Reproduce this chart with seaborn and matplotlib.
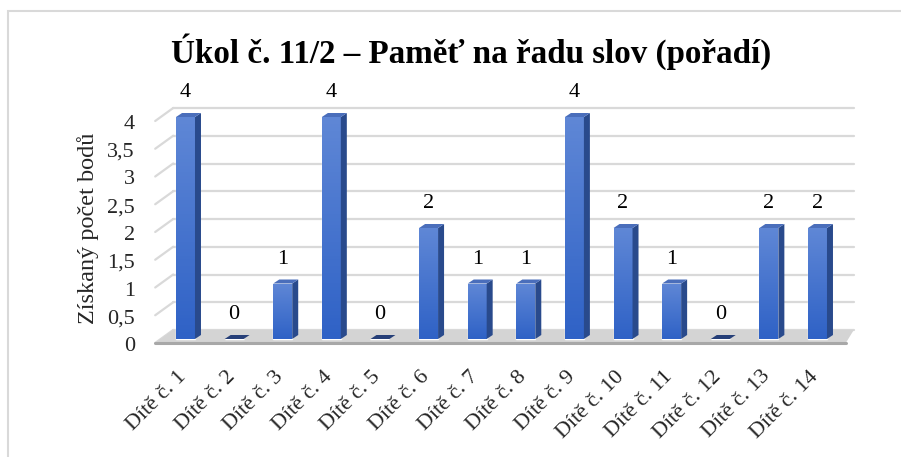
import numpy as np
import pandas as pd
import matplotlib
matplotlib.use("Agg")
import matplotlib.pyplot as plt
import matplotlib.transforms as mtransforms
from matplotlib.patches import Polygon, Rectangle
from matplotlib.colors import LinearSegmentedColormap
import seaborn as sns

# ---- data ----
categories = [f"Dítě č. {i}" for i in range(1, 15)]
values = [4, 0, 1, 4, 0, 2, 1, 1, 4, 2, 1, 0, 2, 2]
yticks = [0, 0.5, 1, 1.5, 2, 2.5, 3, 3.5, 4]
ytick_labels = ["0", "0,5", "1", "1,5", "2", "2,5", "3", "3,5", "4"]
title = "Úkol č. 11/2 – Paměť na řadu slov (pořadí)"
ylabel = "Získaný počet bodů"

df = pd.DataFrame({"cat": categories, "val": values})

sns.set_theme(style="white")
plt.rcParams["font.family"] = ["Liberation Serif", "DejaVu Serif"]

FS = 16
W, H, DPI = 901, 457, 100
fig = plt.figure(figsize=(W / DPI, H / DPI), dpi=DPI)
fig.patch.set_facecolor("white")

# axes placement (pixels)
left_px, right_px = 161.2, 841.8
y0_px, y4_px = 339, 117
ax = fig.add_axes([left_px / W, (H - y0_px) / H, (right_px - left_px) / W, (y0_px - y4_px) / H])
ax.set_facecolor("none")

sns.barplot(data=df, x="cat", y="val", color="#4472C4", width=0.39, ax=ax,
            saturation=1, zorder=3)
bars = list(ax.patches)
ax.set_xlim(-0.5, len(categories) - 0.5)
ax.set_ylim(0, 4)

for s in ax.spines.values():
    s.set_visible(False)
ax.tick_params(length=0)

# outer chart frame
fig.patches.append(Rectangle((8 / W, -0.05), 1.2, (H - 11) / H + 0.05, transform=fig.transFigure,
                             fill=False, edgecolor="#d9d9d9", linewidth=1.5, zorder=0))

# ---- pseudo 3D walls / gridlines ----
ytr = ax.get_yaxis_transform()
back_dx, back_dy = 12, 9      # pixels
front_dx, front_dy = -6, -4
grid_color = "#d9d9d9"
for y in yticks:
    p0 = ytr.transform((0, y))
    p1 = ytr.transform((1, y))
    ax.plot([p0[0] + back_dx, p1[0] + back_dx], [p0[1] + back_dy, p1[1] + back_dy],
            transform=mtransforms.IdentityTransform(), color=grid_color, lw=1.6,
            clip_on=False, zorder=1)
    ax.plot([p0[0] + front_dx, p0[0] + back_dx], [p0[1] + front_dy, p0[1] + back_dy],
            transform=mtransforms.IdentityTransform(), color=grid_color, lw=1.6,
            clip_on=False, zorder=1)

# floor
f0 = ytr.transform((0, 0))
f1 = ytr.transform((1, 0))
floor = Polygon([[f0[0] + front_dx, f0[1] + front_dy], [f1[0] + 4, f1[1] + front_dy],
                 [f1[0] + back_dx, f1[1] + back_dy], [f0[0] + back_dx, f0[1] + back_dy]],
                closed=True, transform=mtransforms.IdentityTransform(),
                facecolor="#d4d4d4", edgecolor="none", clip_on=False, zorder=1.5)
ax.add_patch(floor)
ax.plot([f0[0] + front_dx, f1[0] + 4], [f0[1] + front_dy, f1[1] + front_dy],
        transform=mtransforms.IdentityTransform(), color="#a8a8a8", lw=2.2,
        clip_on=False, zorder=1.6)

# ---- bar faces ----
inv = ax.transData.inverted()
o = inv.transform((0, 0))
d = inv.transform((6, 4))
ddx, ddy = d[0] - o[0], d[1] - o[1]
grad_cmap = LinearSegmentedColormap.from_list("g", ["#5f87d6", "#2f62c6"])
grad = np.linspace(0, 1, 64).reshape(-1, 1)

for p in bars:
    x0 = p.get_x()
    w = p.get_width()
    h = p.get_height()
    x1 = x0 + w
    p.set_clip_on(False)
    if h > 0:
        im = ax.imshow(grad, extent=[x0, x1, 0, h], origin="upper", aspect="auto",
                       cmap=grad_cmap, zorder=3.1)
        im.set_clip_path(p)
        side = Polygon([[x1, 0], [x1 + ddx, ddy], [x1 + ddx, h + ddy], [x1, h]],
                       closed=True, facecolor="#294a8c", edgecolor="none", zorder=3.2,
                       clip_on=False)
        ax.add_patch(side)
        top_c = "#4a6ebb"
    else:
        top_c = "#263f78"
    top = Polygon([[x0, h], [x1, h], [x1 + ddx, h + ddy], [x0 + ddx, h + ddy]],
                  closed=True, facecolor=top_c, edgecolor="none", zorder=3.3, clip_on=False)
    ax.add_patch(top)

ax.set_xlim(-0.5, len(categories) - 0.5)
ax.set_ylim(0, 4)

# data labels
for p, v in zip(bars, values):
    ax.annotate(f"{v}", (p.get_x() + p.get_width() / 2, v), xytext=(0, 14.4),
                textcoords="offset points", ha="center", va="baseline",
                fontsize=FS, color="black", annotation_clip=False, zorder=5)

# ticks
ax.set_yticks(yticks)
ax.set_yticklabels(ytick_labels, fontsize=FS)
ax.tick_params(axis="y", pad=19)
for lab in ax.get_yticklabels():
    lab.set_transform(lab.get_transform() + mtransforms.ScaledTranslation(0, -5 / DPI, fig.dpi_scale_trans))

ax.set_xticks(range(len(categories)))
ax.set_xticklabels(categories, rotation=45, ha="right", va="center",
                   rotation_mode="anchor", fontsize=FS)
ax.tick_params(axis="x", pad=25)
for lab in ax.get_xticklabels():
    lab.set_transform(lab.get_transform() + mtransforms.ScaledTranslation(-2 / DPI, 0, fig.dpi_scale_trans))

ax.set_xlabel("")
ax.set_ylabel(ylabel, fontsize=17.5, labelpad=6)

fig.text(471 / W, 1 - 52 / H, title, ha="center", va="center", fontsize=23.8,
         fontweight="bold", color="black")

fig.savefig("out.png", dpi=DPI)
